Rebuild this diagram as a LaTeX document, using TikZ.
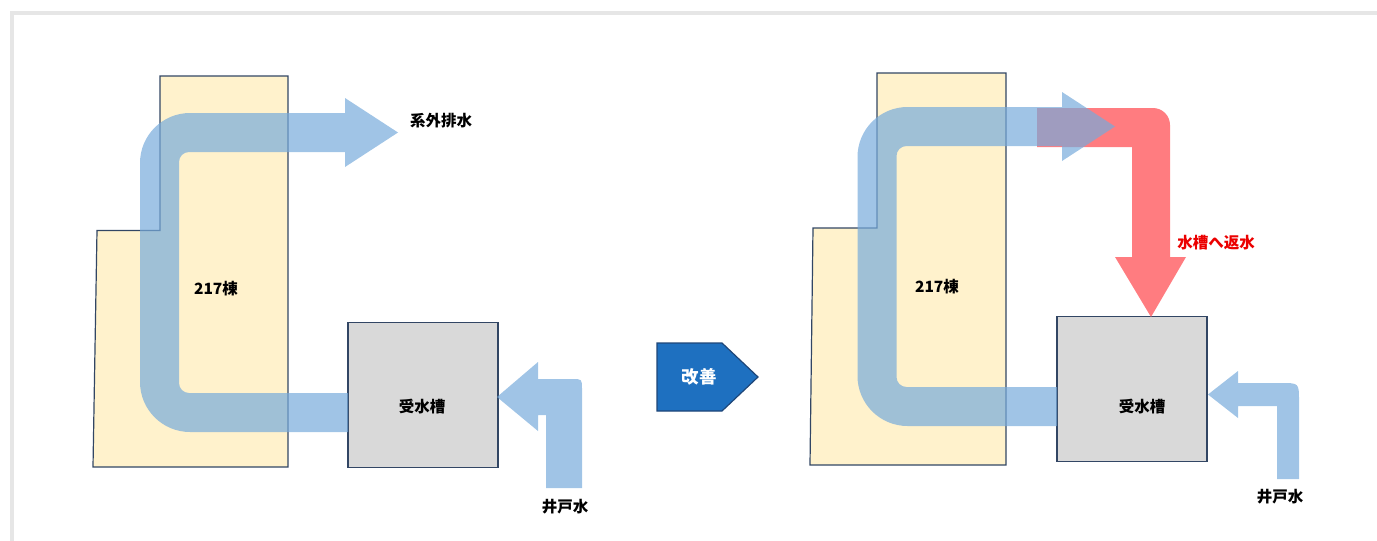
\documentclass[tikz,border=0pt]{standalone}
\usepackage{fontspec}
\newfontfamily\jpfont{Noto Sans CJK JP}
\usetikzlibrary{positioning}
\definecolor{framegray}{RGB}{230,230,230}
\definecolor{outlineblue}{RGB}{50,70,100}
\definecolor{buildingyellow}{RGB}{255,242,204}
\definecolor{tankgray}{RGB}{217,217,217}
\definecolor{flowblue}{RGB}{119,171,219}
\definecolor{returnred}{RGB}{255,124,128}
\definecolor{returntext}{RGB}{235,0,0}
\definecolor{improvefill}{RGB}{30,112,192}
\definecolor{improvedraw}{RGB}{30,70,120}

\begin{document}
\begin{tikzpicture}[x=1pt,y=-1pt]
\tikzset{
  building/.style={draw=outlineblue,fill=buildingyellow,line width=1.2pt},
  tank/.style={draw=outlineblue,fill=tankgray,line width=1.2pt,minimum width=150pt,minimum height=145pt,inner sep=0pt},
  flow/.style={fill=flowblue,fill opacity=0.7},
  returnflow/.style={fill=returnred},
  jplabel/.style={font=\jpfont\bfseries\fontsize{15.5}{18}\selectfont,inner sep=0pt},
  improve/.style={draw=improvedraw,fill=improvefill,line width=1.2pt}
}
\useasboundingbox (0,0) rectangle (1377,541);
% frame
\draw[framegray,line width=4pt] (10,13) -- (1377,13);
\draw[framegray,line width=4pt] (12,11) -- (12,541);

% before
\draw[building] (160,76) -- (288,76) -- (288,467) -- (93,467) -- (97,230.5) -- (160,230.5) -- cycle;
\node[tank] (tank_l) at (423,395) {};
\fill[flow] (348,432) -- (190,432) .. controls (162.4,432) and (140,409.6) .. (140,382)
  -- (140,163) .. controls (140,135.4) and (162.4,113) .. (190,113)
  -- (345,113) -- (345,98) -- (398,132.5) -- (345,167) -- (345,152)
  -- (189,152) .. controls (183.5,152) and (179,156.5) .. (179,162)
  -- (179,383) .. controls (179,388.5) and (183.5,393) .. (189,393)
  -- (348,393) -- cycle;
\fill[flow] (546,488) -- (582,488) -- (582,389) .. controls (582,379) .. (572,379)
  -- (538,379) -- (538,362) -- (497,397) -- (538,431) -- (538,415) -- (546,415) -- cycle;
\node[jplabel] (bldg_l) at (216,289) {217棟};
\node[jplabel] (drain) at (441,121) {系外排水};
\node[jplabel] (tank_l_txt) at (422,407) {受水槽};
\node[jplabel] (well_l) at (565,507) {井戸水};

% improvement
\draw[improve] (657,343) -- (722,343) -- (758,377) -- (722,411) -- (657,411) -- cycle;
\node[jplabel,text=white,font=\jpfont\bfseries\fontsize{17.5}{20}\selectfont] (improve_txt) at (699,377) {改善};

% after
\draw[building] (877,73) -- (1006,73) -- (1006,465) -- (810,465) -- (813,228) -- (877,228) -- cycle;
\node[tank] (tank_r) at (1132,389) {};
\fill[returnflow] (1037,108) -- (1153,108) .. controls (1162.4,108) and (1170,115.6) .. (1170,125)
  -- (1170,257) -- (1186,257) -- (1151,317) -- (1115,257) -- (1132,257) -- (1132,147)
  -- (1037,147) -- cycle;
\fill[flow] (1057,426) -- (907.5,426) .. controls (879.9,426) and (857.5,403.6) .. (857.5,376)
  -- (857.5,157) .. controls (857.5,129.4) and (879.9,107) .. (907.5,107)
  -- (1062,107) -- (1062,92) -- (1115,126.5) -- (1062,161) -- (1062,146)
  -- (906.5,146) .. controls (901,146) and (896.5,150.5) .. (896.5,156)
  -- (896.5,377) .. controls (896.5,382.5) and (901,387) .. (906.5,387)
  -- (1057,387) -- cycle;
\fill[flow] (1277,479) -- (1299,479) -- (1299,401) .. controls (1299,383) .. (1281,383)
  -- (1238,383) -- (1238,371) -- (1208,394.5) -- (1238,418) -- (1238,406) -- (1277,406) -- cycle;
\node[jplabel] (bldg_r) at (937,287) {217棟};
\node[jplabel,text=returntext] (return_txt) at (1216,243) {水槽へ返水};
\node[jplabel] (tank_r_txt) at (1142,407) {受水槽};
\node[jplabel] (well_r) at (1280,497) {井戸水};
\end{tikzpicture}
\end{document}
